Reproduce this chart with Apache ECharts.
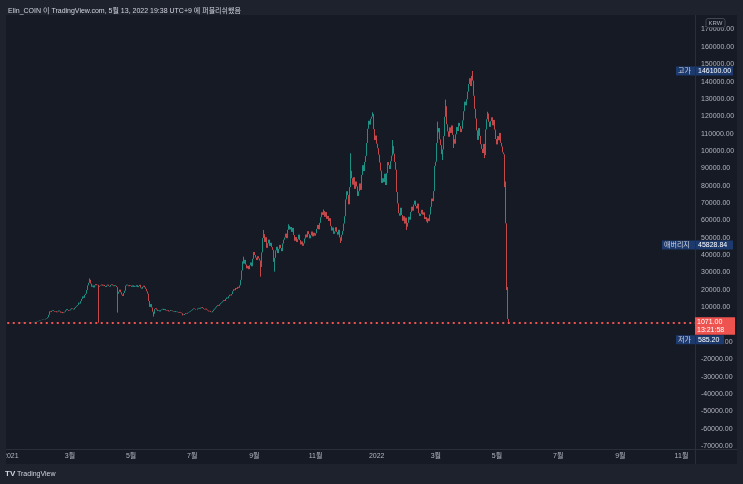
<!DOCTYPE html>
<html>
<head>
<meta charset="utf-8">
<script src="https://cdn.jsdelivr.net/npm/echarts/dist/echarts.min.js"></script>
<style>
  html, body { margin: 0; padding: 0; background: #1e222d; }
  #chart { width: 743px; height: 484px; }
</style>
</head>
<body>
<div id="chart"></div>
<script>
// 일봉 종가 (KRW), 월별로 나눔
const dec20 = [690, 660, 710];
const jan21 = [680, 720, 760, 830, 900, 870, 940, 1010, 1100, 1050, 980, 900, 1020, 1150, 1210, 1180, 1260, 1320, 1290, 1240, 1180, 1300, 1420, 1500, 1610, 1580, 1720, 1900, 2150, 2400, 2600];
const feb21 = [2700, 2900, 3100, 3000, 3300, 3600, 4200, 5600, 7600, 7200, 7900, 8300, 7800, 7400, 7700, 7100, 7500, 8100, 7600, 6900, 7300, 6600, 7000, 7400, 8200, 8900, 8400, 7900];
const mar21 = [8200, 8800, 9400, 9100, 8700, 9600, 10200, 10800, 11300, 12600, 12100, 13500, 14800, 16200, 15400, 17100, 17800, 19900, 22600, 24100, 25800, 23600, 21800, 22500, 21400, 22600, 23300, 22700, 22900, 21800, 22300];
const apr21 = [22600, 23100, 22400, 22900, 22200, 21700, 22500, 23000, 22300, 21900, 22800, 23200, 22600, 22100, 22700, 22300, 21600, 17800, 18900, 20100, 18600, 17300, 16500, 18200, 19500, 22400, 23000, 22600, 22100, 22800];
const may21 = [22400, 21800, 22600, 21700, 22300, 21900, 22700, 21600, 22200, 22900, 21300, 20700, 21800, 22400, 21500, 20600, 19200, 17800, 13600, 10200, 11800, 9800, 7400, 6200, 8900, 9400, 8600, 7800, 8200, 7600, 8300];
const jun21 = [8700, 9100, 8400, 8900, 8200, 7900, 8300, 7600, 7900, 8400, 8100, 7700, 7400, 7800, 7200, 7500, 7100, 6800, 7300, 6900, 6500, 5800, 5500, 6100, 6600, 6300, 6800, 7100, 7500, 7900];
const jul21 = [8300, 8800, 9300, 9000, 8600, 9200, 9600, 9100, 9700, 10100, 9500, 9000, 8700, 9200, 8600, 8100, 7600, 7900, 7300, 7100, 7800, 8600, 9200, 9900, 10600, 11200, 10800, 11700, 12300, 12800, 13400];
const aug21 = [14100, 13600, 14800, 15600, 15100, 16300, 17200, 16800, 17600, 19200, 20300, 19800, 21100, 20600, 21700, 21200, 22600, 25800, 31200, 36400, 35100, 37300, 34600, 32400, 33800, 31900, 34200, 35800, 33600, 37900, 41800];
const sep21 = [40100, 38600, 37200, 39400, 38100, 36900, 33200, 41600, 49800, 52100, 47600, 50300, 44200, 46800, 48900, 45300, 47100, 44600, 43100, 36200, 38400, 42700, 44800, 41200, 43600, 45900, 44100, 42300, 46700, 48900];
const oct21 = [50200, 52400, 49800, 54600, 56900, 54800, 56200, 53400, 55700, 51600, 48300, 50400, 47600, 49200, 51800, 48700, 46200, 47900, 45400, 46800, 49600, 51900, 50300, 53800, 52100, 49700, 51400, 53600, 50800, 52900, 51200];
const nov21 = [52600, 55100, 57400, 54900, 58600, 61800, 64700, 63200, 65400, 62100, 64800, 60900, 62600, 59700, 61300, 56800, 54200, 55900, 52300, 53700, 56100, 53400, 51800, 54600, 50200, 48300, 51700, 53900, 58200, 62400];
const dec21 = [72100, 76800, 74600, 69300, 79200, 88600, 84300, 80600, 84900, 78200, 82400, 79600, 74100, 76800, 81300, 77600, 86200, 91800, 88400, 93700, 97200, 104600, 112800, 117400, 115200, 118600, 119800, 121300, 112600, 106300, 108900];
const jan22 = [104200, 101600, 97900, 93400, 88700, 81600, 84300, 82100, 86900, 80400, 87200, 93600, 91800, 89600, 94100, 97300, 102800, 98400, 93700, 89200, 76400, 69800, 64200, 62700, 67300, 63100, 59800, 62400, 58200, 61600, 56400];
const feb22 = [58600, 62100, 60400, 64800, 67900, 65600, 69200, 71400, 68300, 66900, 69700, 64200, 62600, 63800, 66100, 63300, 64700, 60800, 61900, 59400, 61200, 59600, 63400, 67800, 72600, 71100, 76900, 91400];
const mar22 = [93800, 104600, 110800, 113200, 106700, 103400, 98200, 100900, 108600, 119700, 125800, 115400, 111300, 108200, 113600, 110400, 114700, 109300, 106800, 104200, 109600, 113800, 111500, 116200, 114300, 110900, 112800, 117600, 122900, 128400, 126300];
const apr22 = [129800, 134200, 138600, 141900, 137400, 143200, 140600, 131800, 124300, 118700, 111900, 106400, 113200, 108700, 103900, 101200, 98800, 104100, 97600, 112400, 118300, 121600, 116800, 113900, 117200, 119400, 114800, 117900, 112300, 106900];
const may22 = [103800, 108600, 106200, 110400, 104700, 102600, 99200, 98100, 82400, 58300, 21600, 3200, 1071];

const firstOpen = 680;

// 눈에 띄는 꼬리 (고가/저가)
const highWicks = {
  '2021-03-21': 26600, '2021-08-21': 39100, '2021-09-10': 54500, '2021-10-05': 57800,
  '2021-11-09': 66300, '2021-12-06': 98700, '2021-12-28': 122300, '2022-01-17': 106300,
  '2022-03-03': 116900, '2022-03-11': 129600, '2022-04-07': 146100, '2022-04-22': 122600
};
const lowWicks = {
  '2021-03-30': 1100, '2021-04-18': 6900, '2021-05-24': 4600, '2021-06-22': 5300,
  '2021-09-07': 27600, '2021-09-21': 30500, '2021-11-26': 47000, '2022-01-31': 54500,
  '2022-02-21': 58500, '2022-03-08': 94800, '2022-03-19': 101700, '2022-04-19': 95900,
  '2022-05-09': 79200, '2022-05-11': 19900, '2022-05-13': 585.2
};

const highPrice = 146100, lowPrice = 585.2, avgPrice = 45828.84, lastPrice = 1071, lastTime = '13:21:58';

const months = [
  ['2020-12', 29, dec20], ['2021-01', 1, jan21], ['2021-02', 1, feb21], ['2021-03', 1, mar21],
  ['2021-04', 1, apr21], ['2021-05', 1, may21], ['2021-06', 1, jun21], ['2021-07', 1, jul21],
  ['2021-08', 1, aug21], ['2021-09', 1, sep21], ['2021-10', 1, oct21], ['2021-11', 1, nov21],
  ['2021-12', 1, dec21], ['2022-01', 1, jan22], ['2022-02', 1, feb22], ['2022-03', 1, mar22],
  ['2022-04', 1, apr22], ['2022-05', 1, may22]
];

// 날짜 축 (2020-12-29 ~ 2022-11)
const dates = [];
const t0 = Date.UTC(2020, 11, 29);
for (let i = 0; i < 686; i++) {
  dates.push(new Date(t0 + i * 86400000).toISOString().slice(0, 10));
}

const closeByDate = {};
months.forEach(([ym, first, arr]) => {
  arr.forEach((v, i) => { closeByDate[ym + '-' + String(first + i).padStart(2, '0')] = v; });
});

const ohlc = [];
let prev = firstOpen;
dates.forEach(d => {
  const c = closeByDate[d];
  if (c === undefined) return;
  const o = prev;
  prev = c;
  let hi = Math.max(o, c), lo = Math.min(o, c);
  if (highWicks[d]) hi = Math.max(hi, highWicks[d]);
  if (lowWicks[d]) lo = Math.min(lo, lowWicks[d]);
  ohlc.push([o, c, lo, hi]);
});

const FONT = '"Liberation Sans", "Noto Sans CJK KR", sans-serif';
const TXT = '#b2b5be';
const PANE = '#161a25';
const FRAME = '#1e222d';
const LINE = '#2a2e39';
const BLUE = '#1d3a6e';
const UP = '#1f8f84', DOWN = '#c4474a';
const RED = '#ef5350';

const chart = echarts.init(document.getElementById('chart'));

chart.setOption({
  animation: false,
  backgroundColor: FRAME,
  title: {
    text: 'Elin_COIN 이 TradingView.com, 5월 13, 2022 19:38 UTC+9 에 퍼블리쉬했음',
    left: 3, top: 3,
    textStyle: { color: '#d1d4dc', fontSize: 7, fontWeight: 'normal', fontFamily: FONT }
  },
  grid: { left: 5, right: 48, top: 15.6, bottom: 37.9 },
  xAxis: {
    type: 'category',
    data: dates,
    axisLine: { show: false },
    axisTick: { show: false },
    splitLine: { show: false },
    axisLabel: {
      color: TXT, fontSize: 7, fontFamily: FONT, margin: 6,
      interval: (i, v) => v.slice(8) === '01' && (+v.slice(5, 7)) % 2 === 1,
      formatter: v => {
        const m = +v.slice(5, 7);
        return m === 1 ? v.slice(0, 4) : m + '월';
      }
    }
  },
  yAxis: {
    type: 'value',
    position: 'right',
    min: -70000, max: 178000, interval: 10000,
    axisLine: { show: false },
    axisTick: { show: false },
    splitLine: { show: false },
    axisLabel: {
      color: TXT, fontSize: 7, fontFamily: FONT, margin: 6,
      showMaxLabel: false,
      formatter: v => v.toFixed(2)
    }
  },
  series: [{
    type: 'candlestick',
    data: ohlc,
    barWidth: '70%',
    itemStyle: { color: UP, color0: DOWN, borderColor: UP, borderColor0: DOWN, borderWidth: 1 },
    markLine: {
      silent: true,
      symbol: 'none',
      label: { show: false },
      lineStyle: { color: RED, type: [2, 3.5], width: 2 },
      data: [{ yAxis: lastPrice }]
    }
  }]
});

const py = v => chart.convertToPixel({ yAxisIndex: 0 }, v);

function box(x, y, w, h, fill, lines, color, z) {
  const els = [{ type: 'rect', z: z, shape: { x: x, y: y, width: w, height: h }, style: { fill: fill } }];
  lines.forEach((s, i) => {
    els.push({
      type: 'text', z: z + 1,
      style: {
        text: s, x: x + 2, y: y + h / lines.length * (i + 0.5),
        fill: color, font: '7px ' + FONT,
        align: 'left', verticalAlign: 'middle', textAlign: 'left', textVerticalAlign: 'middle'
      }
    });
  });
  return els;
}

const yHigh = py(highPrice), yAvg = py(avgPrice), yLast = py(lastPrice);
const redTop = yLast - 5.5, redH = 17.5;
const yLow = redTop + redH + 5;

const g = [
  { type: 'rect', z: -10, shape: { x: 5, y: 15, width: 732, height: 449 }, style: { fill: PANE } },
  { type: 'line', z: 5, shape: { x1: 695.5, y1: 15, x2: 695.5, y2: 464 }, style: { stroke: LINE, lineWidth: 1 } },
  { type: 'line', z: 5, shape: { x1: 5, y1: 449.5, x2: 737, y2: 449.5 }, style: { stroke: LINE, lineWidth: 1 } },
  { type: 'rect', z: 100, shape: { x: 0, y: 15, width: 6, height: 469 }, style: { fill: FRAME } },
  // KRW
  { type: 'rect', z: 50, shape: { x: 706, y: 18.5, width: 19, height: 9, r: 2 }, style: { fill: PANE, stroke: '#434651', lineWidth: 1 } },
  { type: 'text', z: 51, style: { text: 'KRW', x: 715.5, y: 23, fill: TXT, font: '6px ' + FONT, align: 'center', verticalAlign: 'middle', textAlign: 'center', textVerticalAlign: 'middle' } },
  // 로고
  { type: 'text', z: 101, style: { text: 'TV', x: 5, y: 474, fill: '#d1d4dc', font: 'bold 8px ' + FONT, verticalAlign: 'middle', textVerticalAlign: 'middle' } },
  { type: 'text', z: 101, style: { text: 'TradingView', x: 17, y: 474, fill: '#d1d4dc', font: '7px ' + FONT, verticalAlign: 'middle', textVerticalAlign: 'middle' } }
];

g.push(...box(676, yHigh - 4.5, 19, 9, BLUE, ['고가'], '#d1d4dc', 60));
g.push(...box(696, yHigh - 4.5, 37, 9, BLUE, [highPrice.toFixed(2)], '#ffffff', 60));
g.push(...box(662, yAvg - 4.5, 33, 9, BLUE, ['애버리지'], '#d1d4dc', 60));
g.push(...box(696, yAvg - 4.5, 37, 9, BLUE, [avgPrice.toFixed(2)], '#ffffff', 60));
g.push(...box(695, redTop, 40, redH, RED, [lastPrice.toFixed(2), lastTime], '#ffffff', 60));
g.push(...box(676, yLow - 4.5, 19, 9, BLUE, ['저가'], '#d1d4dc', 60));
g.push(...box(696, yLow - 4.5, 28, 9, BLUE, [lowPrice.toFixed(2)], '#ffffff', 60));

chart.setOption({ graphic: g });
</script>
</body>
</html>
